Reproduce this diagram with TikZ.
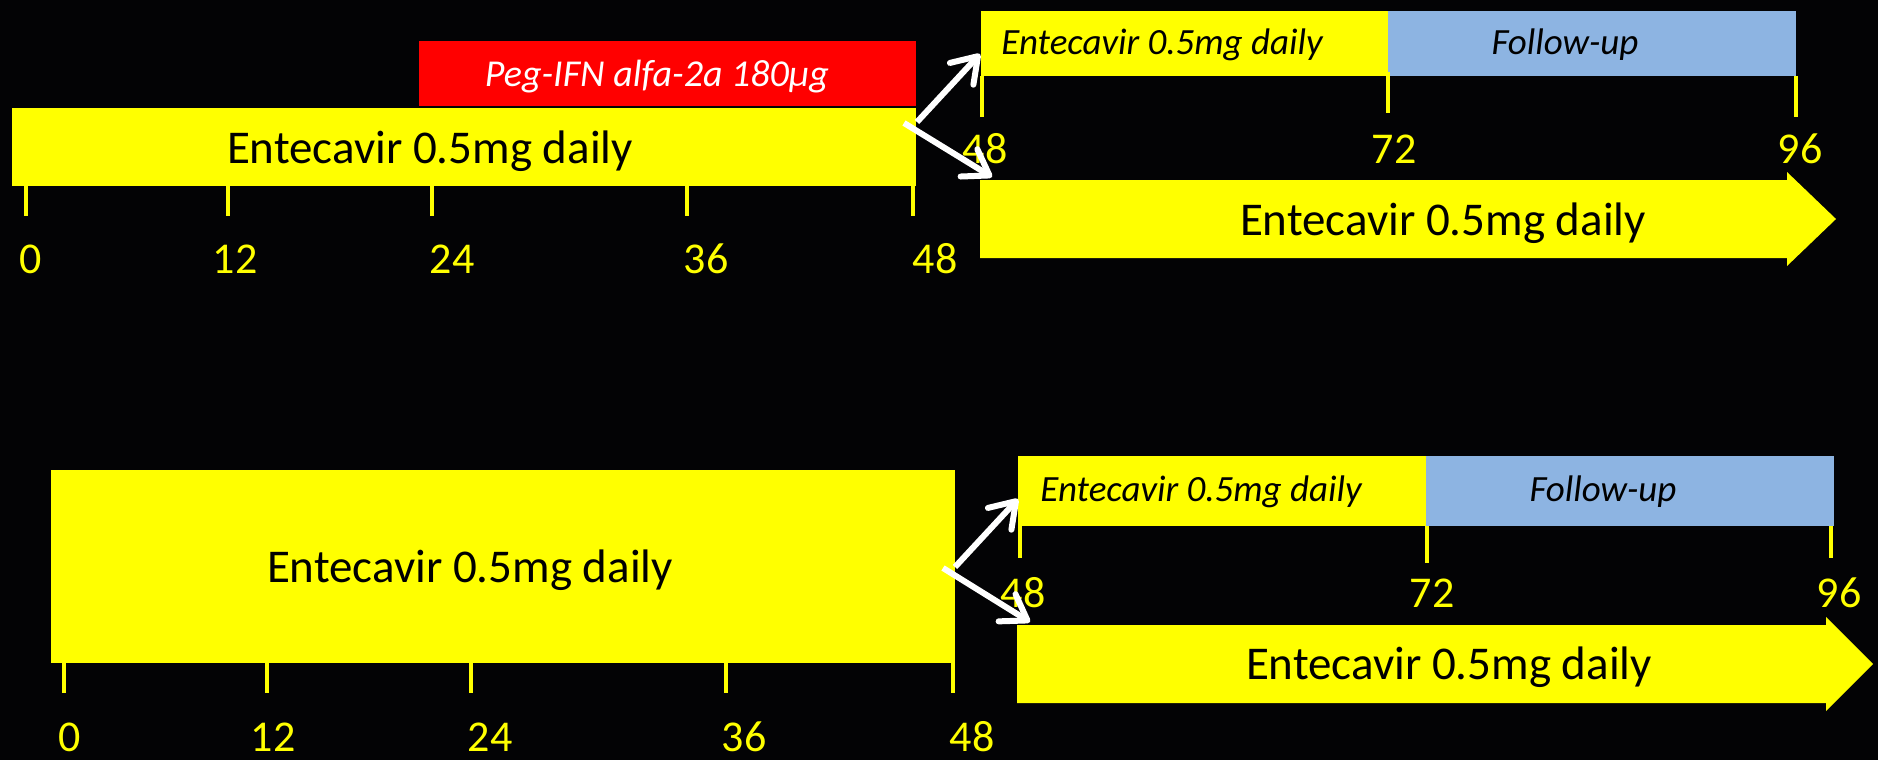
\documentclass[tikz,border=0pt]{standalone}
\usepackage{fontspec}
\setmainfont{Carlito}
\usetikzlibrary{arrows.meta}
\definecolor{ylw}{RGB}{255,255,0}
\definecolor{rd}{RGB}{255,0,0}
\definecolor{blu}{RGB}{141,180,226}
\definecolor{bg}{RGB}{3,3,5}
\begin{document}
\begin{tikzpicture}[x=1pt,y=-1pt,
  boxy/.style={fill=ylw, draw=none, inner sep=0pt, outer sep=0pt, anchor=north west},
  boxr/.style={fill=rd, draw=none, inner sep=0pt, outer sep=0pt, anchor=north west},
  boxb/.style={fill=blu, draw=none, inner sep=0pt, outer sep=0pt, anchor=north west},
  tickln/.style={draw=ylw, line width=4pt},
  lab/.style={text=ylw, font=\fontsize{44}{50}\selectfont, anchor=base, inner sep=0pt},
  bigtxt/.style={text=black, font=\fontsize{47}{56}\selectfont, anchor=base, inner sep=0pt},
  ittxt/.style={text=black, font=\fontsize{37}{44}\selectfont\itshape, anchor=base, inner sep=0pt},
  pegtxt/.style={text=white, font=\fontsize{38}{46}\selectfont\itshape, anchor=base, inner sep=0pt},
  warrow/.style={draw=white, line width=6pt, -{Straight Barb[round, length=24pt, width=32pt]}}
]
\useasboundingbox (0,0) rectangle (1878,760);
\fill[bg] (0,0) rectangle (1878,760);

% ---------------- top panel ----------------
\node[boxr, minimum width=497pt, minimum height=65pt] (peg) at (419,41) {};
\node[pegtxt] (pegt) at (657,86) {Peg-IFN alfa-2a 180μg};
\node[boxy, minimum width=904pt, minimum height=78pt] (bar1) at (12,108) {};
\node[bigtxt] (bar1t) at (430,163) {Entecavir 0.5mg daily};

\draw[tickln] (25.5,186) -- (25.5,216);
\draw[tickln] (228,186) -- (228,216);
\draw[tickln] (432,186) -- (432,216);
\draw[tickln] (687,186) -- (687,216);
\draw[tickln] (913,186) -- (913,216);
\node[lab] (t0) at (31,273) {0};
\node[lab] (t12) at (235,273) {12};
\node[lab] (t24) at (452,273) {24};
\node[lab] (t36) at (706,273) {36};
\node[lab] (t48) at (935,273) {48};

\node[boxy, minimum width=407pt, minimum height=65pt] (etv1) at (981,11) {};
\node[boxb, minimum width=408pt, minimum height=65pt] (fu1) at (1388,11) {};
\node[ittxt] (etv1t) at (1162,55) {Entecavir 0.5mg daily};
\node[ittxt] (fu1t) at (1565,55) {Follow-up};
\draw[tickln] (982,76) -- (982,117);
\draw[tickln] (1388,72) -- (1388,113);
\draw[tickln] (1796,76) -- (1796,117);
\node[lab] (u48) at (985,163) {48};
\node[lab] (u72) at (1394,163) {72};
\node[lab] (u96) at (1800,163) {96};

\fill[ylw] (980,180) -- (1787,180) -- (1787,172) -- (1836,219) -- (1787,266) -- (1787,258) -- (980,258) -- cycle;
\node[bigtxt] (arr1t) at (1443,235) {Entecavir 0.5mg daily};

\coordinate (a1s) at (917,122);
\coordinate (a1e) at (980,54);
\coordinate (a2s) at (904,123);
\coordinate (a2e) at (992,177);
\draw[warrow] (a1s) -- (a1e);
\draw[warrow] (a2s) -- (a2e);

% ---------------- bottom panel ----------------
\node[boxy, minimum width=904pt, minimum height=193pt] (bar2) at (51,470) {};
\node[bigtxt] (bar2t) at (470,582) {Entecavir 0.5mg daily};
\draw[tickln] (64,663) -- (64,693);
\draw[tickln] (267,663) -- (267,693);
\draw[tickln] (471,663) -- (471,693);
\draw[tickln] (726,663) -- (726,693);
\draw[tickln] (953,647) -- (953,693);
\node[lab] (b0) at (70,751) {0};
\node[lab] (b12) at (273,751) {12};
\node[lab] (b24) at (490,751) {24};
\node[lab] (b36) at (744,751) {36};
\node[lab] (b48) at (972,751) {48};

\node[boxy, minimum width=408pt, minimum height=70pt] (etv2) at (1018,456) {};
\node[boxb, minimum width=408pt, minimum height=70pt] (fu2) at (1426,456) {};
\node[ittxt] (etv2t) at (1201,501) {Entecavir 0.5mg daily};
\node[ittxt] (fu2t) at (1603,501) {Follow-up};
\draw[tickln] (1020,526) -- (1020,558);
\draw[tickln] (1427,526) -- (1427,563);
\draw[tickln] (1831,526) -- (1831,558);
\node[lab] (v48) at (1023,607) {48};
\node[lab] (v72) at (1432,607) {72};
\node[lab] (v96) at (1839,607) {96};

\fill[ylw] (1017,625) -- (1826,625) -- (1826,617) -- (1873,664) -- (1826,711) -- (1826,703) -- (1017,703) -- cycle;
\node[bigtxt] (arr2t) at (1449,679) {Entecavir 0.5mg daily};

\coordinate (b1s) at (955,567);
\coordinate (b1e) at (1018,499);
\coordinate (b2s) at (943,568);
\coordinate (b2e) at (1030,622);
\draw[warrow] (b1s) -- (b1e);
\draw[warrow] (b2s) -- (b2e);
\end{tikzpicture}
\end{document}
